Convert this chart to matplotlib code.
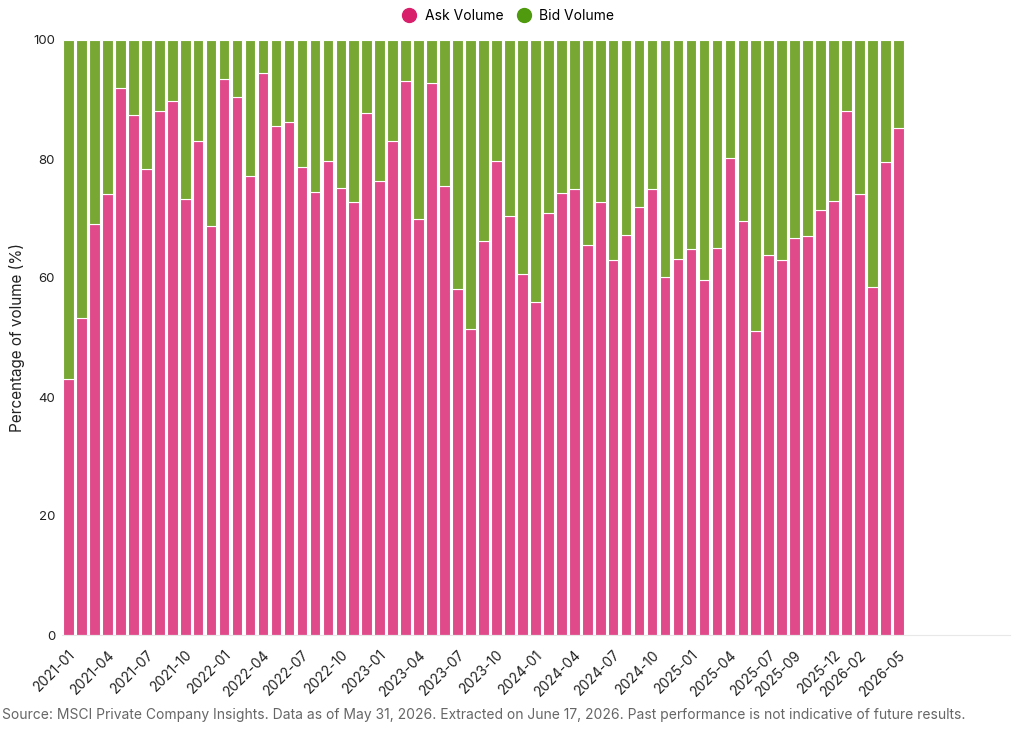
import matplotlib
matplotlib.use("Agg")
import matplotlib.pyplot as plt
from matplotlib.lines import Line2D
import numpy as np

plt.rcParams['font.family'] = ['Inter', 'DejaVu Sans']

months = [f"{y}-{m:02d}" for y in range(2021, 2027) for m in range(1, 13)][:65]

ask_volume = [43.0, 53.2, 69.1, 74.2, 92.0, 87.4, 78.3, 88.0, 89.7, 73.2,
              83.0, 68.8, 93.4, 90.5, 77.2, 94.5, 85.6, 86.2, 78.7, 74.4,
              79.6, 75.2, 72.8, 87.7, 76.3, 83.0, 93.1, 69.9, 92.8, 75.5,
              58.2, 51.5, 66.2, 79.7, 70.5, 60.6, 55.9, 70.9, 74.3, 75.0,
              65.5, 72.7, 63.1, 67.3, 72.0, 75.0, 60.2, 63.2, 64.9, 59.7,
              65.0, 80.2, 69.5, 51.1, 63.9, 63.0, 66.7, 67.1, 71.4, 72.9,
              88.1, 74.2, 58.5, 79.5, 85.2]
bid_volume = [round(100 - a, 1) for a in ask_volume]

tick_labels = ["2021-01", "2021-04", "2021-07", "2021-10", "2022-01", "2022-04",
               "2022-07", "2022-10", "2023-01", "2023-04", "2023-07", "2023-10",
               "2024-01", "2024-04", "2024-07", "2024-10", "2025-01", "2025-04",
               "2025-07", "2025-09", "2025-12", "2026-02", "2026-05"]

ask_color = "#E0498A"
bid_color = "#78A833"
ask_legend = "#D81F6C"
bid_legend = "#4F9A0E"

fig = plt.figure(figsize=(10.24, 7.31), dpi=100)
ax = fig.add_axes([62/1024, 1 - 635/731, (1010-62)/1024, (635-40)/731])

x = np.arange(len(months))
ax.bar(x, ask_volume, width=0.82, color=ask_color, edgecolor="white", linewidth=0.8)
ax.bar(x, bid_volume, bottom=ask_volume, width=0.82, color=bid_color, edgecolor="white", linewidth=0.8)

ax.set_xlim(-0.5, 72.6)
ax.set_ylim(0, 100)
ax.set_yticks([0, 20, 40, 60, 80, 100])
ax.tick_params(axis='y', length=0, labelsize=9.5, colors="#222222", pad=5)

tpos = [months.index(t) for t in tick_labels]
ax.set_xticks(tpos)
ax.set_xticklabels(tick_labels, rotation=45, ha="right", rotation_mode="anchor",
                   fontsize=10, color="#222222")
ax.tick_params(axis='x', length=0, pad=9)

for s in ["top", "right", "left"]:
    ax.spines[s].set_visible(False)
ax.spines["bottom"].set_color("#E8E8E8")
ax.spines["bottom"].set_linewidth(0.8)

ax.set_ylabel("Percentage of volume (%)", fontsize=11, color="#222222", labelpad=6)

handles = [Line2D([], [], marker="o", linestyle="", markersize=10, color=ask_legend, label="Ask Volume"),
           Line2D([], [], marker="o", linestyle="", markersize=10, color=bid_legend, label="Bid Volume")]
fig.legend(handles=handles, loc="center", bbox_to_anchor=(505/1024, 1 - 16/731), ncol=2,
           frameon=False, fontsize=10, handletextpad=0.1, columnspacing=0.5)

fig.text(2/1024, 1 - 715/731, "Source: MSCI Private Company Insights. Data as of May 31, 2026. Extracted on June 17, 2026. Past performance is not indicative of future results.",
         fontsize=10, color="#666666", ha="left", va="center")

fig.savefig("out.png", dpi=100, facecolor="white")
